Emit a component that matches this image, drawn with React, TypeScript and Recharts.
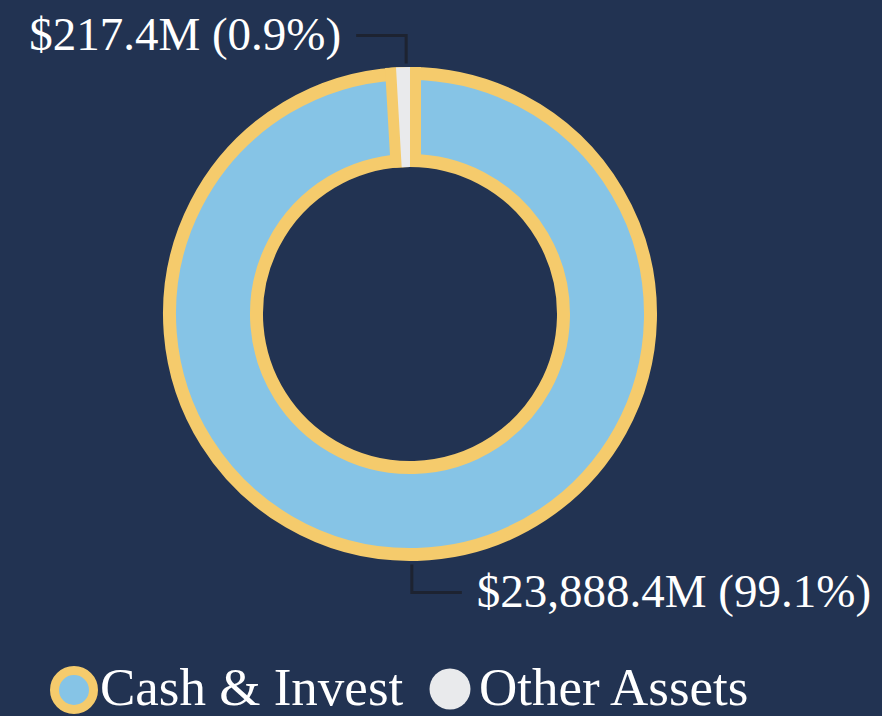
import React from "react";
import { PieChart, Pie, Cell, Legend } from "recharts";

const categories = ["Cash & Invest", "Other Assets"];
const values = [23888.4, 217.4];

const BG = "#223352";
const GOLD = "#f5cb6c";
const BLUE = "#86c4e6";
const GREY = "#e9eaec";
const LINE = "#1d2331";
const FONT = "'Liberation Serif', 'Times New Roman', serif";

const data = categories.map((name, i) => ({ name, value: values[i] }));
const fills = [BLUE, GREY];

const CX = 410;
const CY = 314;
const RADIAN = Math.PI / 180;

const renderLabel = (props: any) => {
    const { cx, cy, midAngle, outerRadius, value, percent } = props;
    const cos = Math.cos(-midAngle * RADIAN);
    const sin = Math.sin(-midAngle * RADIAN);
    const ax = cx - 1 + 100 * cos;
    const dir = sin < 0 ? -1 : 1;
    const y0 = cy + dir * (outerRadius + 10);
    const y1 = cy + dir * (outerRadius + 38);
    const side = cos >= 0 ? 1 : -1;
    const x1 = ax + side * 50;
    const text = `$${value.toLocaleString("en-US", { minimumFractionDigits: 1 })}M (${(percent * 100).toFixed(1)}%)`;
    return (
        <g>
            <polyline
                points={`${ax},${y0} ${ax},${y1} ${x1},${y1}`}
                fill="none"
                stroke={LINE}
                strokeWidth={3}
            />
            <text
                x={x1 + side * 15}
                y={y1}
                dy={14}
                textAnchor={side > 0 ? "start" : "end"}
                fill="#ffffff"
                fontSize={47}
                fontFamily={FONT}
            >
                {text}
            </text>
        </g>
    );
};

const renderLegend = () => (
    <svg width={882} height={66}>
        <circle cx={74} cy={40} r={19.5} fill={BLUE} stroke={GOLD} strokeWidth={9} />
        <text x={100} y={55} fill="#ffffff" fontSize={53} fontFamily={FONT}>
            {categories[0]}
        </text>
        <circle cx={450} cy={39} r={20.5} fill={GREY} />
        <text x={479} y={55} fill="#ffffff" fontSize={53} fontFamily={FONT}>
            {categories[1]}
        </text>
    </svg>
);

export default function App() {
    return (
        <div style={{ position: "fixed", left: 0, top: 0, width: 882, height: 716, background: BG }}>
            <PieChart width={882} height={716} margin={{ top: 0, right: 0, bottom: 0, left: 0 }}>
                <Pie
                    data={data}
                    dataKey="value"
                    nameKey="name"
                    cx={CX}
                    cy={CY}
                    innerRadius={153.5}
                    outerRadius={240.5}
                    startAngle={90}
                    endAngle={-270}
                    stroke={GOLD}
                    strokeWidth={13}
                    label={renderLabel}
                    labelLine={false}
                    isAnimationActive={false}
                >
                    <Cell fill={BLUE} />
                    <Cell fill={GOLD} />
                </Pie>
                <Pie
                    data={data}
                    dataKey="value"
                    cx={CX}
                    cy={CY}
                    innerRadius={158}
                    outerRadius={236}
                    startAngle={90}
                    endAngle={-270}
                    legendType="none"
                    isAnimationActive={false}
                >
                    <Cell fill="none" stroke="none" />
                    <Cell fill={GOLD} stroke={GOLD} strokeWidth={22} />
                </Pie>
                <Pie
                    data={data}
                    dataKey="value"
                    cx={CX}
                    cy={CY}
                    innerRadius={147}
                    outerRadius={247}
                    startAngle={90}
                    endAngle={-270}
                    legendType="none"
                    isAnimationActive={false}
                >
                    <Cell fill="none" stroke="none" />
                    <Cell fill={fills[1]} stroke="none" />
                </Pie>
                <Legend
                    content={renderLegend}
                    wrapperStyle={{ position: "absolute", left: 0, top: 650, width: 882, height: 66 }}
                />
            </PieChart>
        </div>
    );
}
